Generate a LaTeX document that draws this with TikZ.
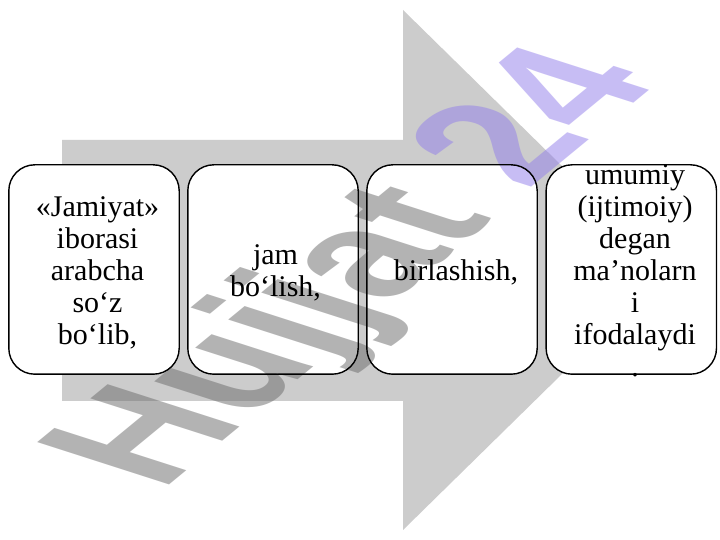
\documentclass[tikz,border=0pt]{standalone}
\usepackage{fontspec}
\setmainfont{Liberation Serif}
\newfontfamily\wmfont{Liberation Sans}
\definecolor{arrowgray}{RGB}{204,204,204}
\definecolor{wmgray}{RGB}{105,105,105}
\definecolor{wmpurple}{RGB}{145,125,235}
\newcommand\tst{\rule{0pt}{26.7pt}}
\newcommand\bst{\rule[-6.5pt]{0pt}{6.5pt}}
\tikzset{
  boxbg/.style={rectangle, rounded corners=26pt, minimum width=170pt, minimum height=209pt, inner sep=0pt, fill=white},
  boxline/.style={line width=1.4pt, rounded corners=26pt},
  lbl/.style={align=center, font=\fontsize{30}{32}\selectfont, inner sep=0pt},
  wm/.style={font=\wmfont\bfseries\fontsize{226}{226}\selectfont, inner sep=0pt, text opacity=0.5}
}
\begin{document}
\begin{tikzpicture}[x=1pt,y=1pt]
\useasboundingbox (0,0) rectangle (720,540);
\fill[white] (0,0) rectangle (720,540);
% big background arrow
\fill[arrowgray] (62,400) -- (403,400) -- (403,530) -- (668,270) -- (403,10) -- (403,139) -- (62,139) -- cycle;
% box fills
\node[boxbg] (b1) at (94,270.5) {};
\node[boxbg] (b2) at (273,270.5) {};
\node[boxbg] (b3) at (452,270.5) {};
\node[boxbg] (b4) at (631.3,270.5) {};
% watermark
\begin{scope}[shift={(362,270)}, yscale=0.514]
\node[wm, rotate=58, transform shape] (wmk) at (0,0) {\color{wmgray}Hujjat \color{wmpurple}24};
\end{scope}
% box outlines
\draw[boxline] (b1.south west) rectangle (b1.north east);
\draw[boxline] (b2.south west) rectangle (b2.north east);
\draw[boxline] (b3.south west) rectangle (b3.north east);
\draw[boxline] (b4.south west) rectangle (b4.north east);
% texts
\node[lbl] (t1) at (97.5,270) {\tst«Jamiyat»\\iborasi\\arabcha\\so‘z\\bo‘lib,\bst};
\node[lbl] (t2) at (275.5,270) {\tst jam\\bo‘lish,\bst};
\node[lbl] (t3) at (456,270) {\tst birlashish,\bst};
\node[lbl] (t4) at (635,270) {\tst umumiy\\(ijtimoiy)\\degan\\ma’nolarn\\i\\ifodalaydi\\.\bst};
\end{tikzpicture}
\end{document}
